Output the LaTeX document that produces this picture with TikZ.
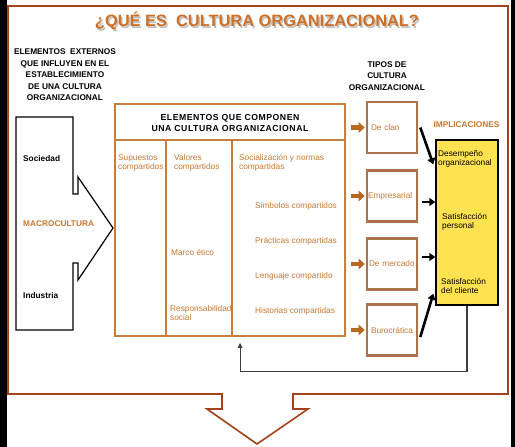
\documentclass[tikz,border=0pt]{standalone}
\usepackage{fontspec}
\setmainfont{Liberation Sans}
\newfontfamily\espaciada[LetterSpace=6]{Liberation Sans}
\usetikzlibrary{arrows.meta,calc,shadows}
\definecolor{naranja}{RGB}{200,120,50}
\definecolor{titulo}{RGB}{205,112,40}
\definecolor{marco}{RGB}{165,65,25}
\definecolor{cafe}{RGB}{170,115,75}
\definecolor{lineaorg}{RGB}{200,125,60}
\definecolor{amarillo}{RGB}{255,226,80}
\definecolor{flecha}{RGB}{185,105,30}
\definecolor{gris}{RGB}{60,60,60}
\tikzset{
  txt/.style={font=\fontsize{8.3}{9}\selectfont, inner sep=0pt, align=left, anchor=west},
  orgtxt/.style={txt, text=naranja},
  negrita/.style={font=\fontsize{8.3}{11.5}\selectfont\bfseries, inner sep=0pt, align=center},
  tipo/.style={draw=cafe, fill=white, line width=2.6pt, minimum width=50pt, minimum height=51pt,
    text width=48pt, inner sep=0pt, align=left, text=naranja, font=\fontsize{8.3}{9}\selectfont,
    drop shadow={opacity=0.3, shadow xshift=1.2pt, shadow yshift=-1.2pt}},
  bloque/.style={draw=flecha, line width=4.2pt, -{Triangle[length=6pt,width=10.5pt]}},
  negro/.style={draw=black, line width=2.6pt, -{Triangle[length=6pt,width=8pt]}},
  columna/.style={draw=lineaorg, line width=1.8pt}
}
\begin{document}
\begin{tikzpicture}[x=1pt,y=-1pt]
\useasboundingbox (0,0) rectangle (515,447);
\fill[black] (0,0) rectangle (515,447);
\fill[white] (7,0) rectangle (511,447);

\path[draw=marco, line width=1.6pt] (222,394) -- (8,394) -- (8,6) -- (508,6) -- (508,394) -- (293,394)
  -- (293,409) -- (308,409) -- (257,444) -- (207,409) -- (222,409) -- cycle;

\node[font=\bfseries\fontsize{16.4}{18}\selectfont, text=black!40, opacity=0.6, anchor=base, inner sep=0pt] (sombra) at (258.5,28.5) {¿QUÉ ES\ \ CULTURA ORGANIZACIONAL?};
\node[font=\bfseries\fontsize{16.4}{18}\selectfont, text=titulo, anchor=base, inner sep=0pt] (titulo) at (257,27) {¿QUÉ ES\ \ CULTURA ORGANIZACIONAL?};

\node[negrita] (externos) at (65,75) {ELEMENTOS\ \ EXTERNOS\\QUE INFLUYEN EN EL\\ESTABLECIMIENTO\\DE UNA CULTURA\\ORGANIZACIONAL};
\node[negrita] (tipos) at (387,76) {TIPOS DE\\CULTURA\\ORGANIZACIONAL};
\node[negrita, text=naranja] (implic) at (466.5,125) {IMPLICACIONES};

\path[draw, line width=1.2pt] (16,117) -- (73,117) -- (73,194) -- (78,194) -- (78,177) -- (113,228)
  -- (78,280) -- (78,263) -- (73,263) -- (73,330) -- (16,330) -- cycle;
\node[txt, font=\fontsize{8.3}{9}\selectfont\bfseries] (sociedad) at (23,159) {Sociedad};
\node[txt, font=\fontsize{8.3}{9}\selectfont\bfseries, text=naranja] (macro) at (23,224) {MACROCULTURA};
\node[txt, font=\fontsize{8.3}{9}\selectfont\bfseries] (industria) at (23,296) {Industria};

\node[columna, minimum width=230pt, minimum height=232pt, inner sep=0pt] (comp) at (230,220) {};
\path[columna] ($(comp.north west)+(0,37)$) -- ($(comp.north east)+(0,37)$);
\path[columna] ($(comp.north west)+(52,37)$) -- ($(comp.south west)+(52,0)$);
\path[columna] ($(comp.north west)+(118,37)$) -- ($(comp.south west)+(118,0)$);
\node[font=\espaciada\bfseries\fontsize{8.7}{11}\selectfont, align=center, inner sep=0pt] (cabecera) at (230,123) {ELEMENTOS QUE COMPONEN\\UNA CULTURA ORGANIZACIONAL};

\node[orgtxt] (supuestos) at (118,163) {Supuestos\\compartidos};
\node[orgtxt] (valores) at (174,163) {Valores\\compartidos};
\node[orgtxt] (marco) at (171,252) {Marco ético};
\node[orgtxt] (respons) at (170,313) {Responsabilidad\\social};
\node[orgtxt] (social) at (239,163) {Socialización y normas\\compartidas};
\node[orgtxt] (simbolos) at (255,206) {Simbolos compartidos};
\node[orgtxt] (practicas) at (255,241) {Prácticas compartidas};
\node[orgtxt] (lenguaje) at (255,276) {Lenguaje compartido};
\node[orgtxt] (historias) at (255,311) {Historias compartidas};

\node[tipo] (clan) at (392,127.5) {\mbox{\hspace{3pt}De clan}};
\node[tipo] (empr) at (392,196) {\mbox{Empresarial}};
\node[tipo] (merc) at (392,264) {\mbox{\hspace{1pt}De mercado}};
\node[tipo] (buro) at (392,330) {\mbox{\hspace{3pt}Burocrática}};

\node[draw, line width=1.4pt, fill=amarillo, minimum width=62pt, minimum height=165pt,
  drop shadow={opacity=0.3, shadow xshift=1.2pt, shadow yshift=-1.2pt}] (impl) at (467,222.5) {};
\node[txt] (desemp) at (438,159) {Desempeño\\organizacional};
\node[txt] (personal) at (442,221.5) {Satisfacción\\personal};
\node[txt] (cliente) at (441,286) {Satisfacción\\del cliente};

\path[bloque] ($(comp.east |- clan.west)+(5,0)$) -- ($(clan.west)+(-1,0)$);
\path[bloque] ($(comp.east |- empr.west)+(5,0)$) -- ($(empr.west)+(-1,0)$);
\path[bloque] ($(comp.east |- merc.west)+(5,0)$) -- ($(merc.west)+(-1,0)$);
\path[bloque] ($(comp.east |- buro.west)+(5,0)$) -- ($(buro.west)+(-1,0)$);

\path[negro] ($(clan.east)+(2,0)$) -- ($(impl.north west)+(-2,25)$);
\path[negro] ($(empr.east)+(4,6)$) -- ($(impl.west |- empr.east)+(0,6)$);
\path[negro] ($(merc.east)+(4,-7)$) -- ($(impl.west |- merc.east)+(0,-7)$);
\path[negro] ($(buro.east)+(2,7)$) -- ($(impl.south west)+(-2,-12)$);

\path[draw=gris, line width=1.2pt, -{Triangle[length=5pt,width=4.5pt]}] (impl.south) -- ++(0,66) -| ($(comp.south west)+(126,6)$);
\end{tikzpicture}
\end{document}
